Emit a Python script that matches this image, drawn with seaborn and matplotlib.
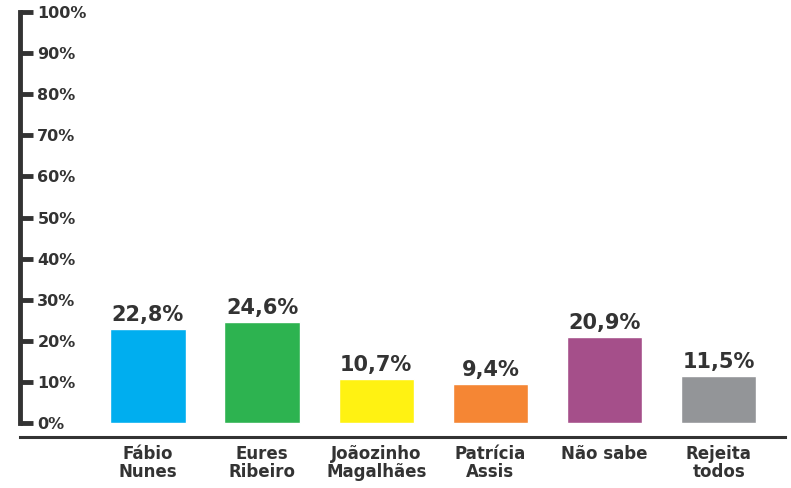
import matplotlib
matplotlib.use("Agg")
import matplotlib.pyplot as plt
import seaborn as sns
import pandas as pd

# data
candidates = ["Fábio\nNunes", "Eures\nRibeiro", "Joãozinho\nMagalhães",
              "Patrícia\nAssis", "Não sabe", "Rejeita\ntodos"]
percent = [22.8, 24.6, 10.7, 9.4, 20.9, 11.5]
bar_colors = ["#00AEEF", "#2DB350", "#FFF212", "#F58634", "#A54F8A", "#939598"]
y_ticks = list(range(0, 101, 10))

ink = "#333333"

sns.set_theme(style="white")
plt.rcParams["font.family"] = ["DejaVu Sans"]

df = pd.DataFrame({"candidate": candidates, "percent": percent})

fig = plt.figure(figsize=(7.91, 4.88), dpi=100)
ax = fig.add_axes([20 / 791, 51 / 488, 765 / 791, 425 / 488])

sns.barplot(data=df, x="candidate", y="percent", hue="candidate",
            palette=bar_colors, width=0.66, legend=False, ax=ax,
            saturation=1)

# value labels above bars
for cont in ax.containers:
    texts = ax.bar_label(cont, labels=[f"{v:.1f}%".replace(".", ",") for v in cont.datavalues],
                         padding=3, fontsize=15, color=ink)
    for t in texts:
        t.set_fontweight("bold")

ax.set_xlim(-1.12, 5.58)
ax.set_ylim(-3.4, 100)
ax.set_yticks(y_ticks)
ax.set_yticklabels([f"{t}%" for t in y_ticks])
ax.set_xlabel("")
ax.set_ylabel("")

for s in ["top", "right"]:
    ax.spines[s].set_visible(False)
ax.spines["left"].set_bounds(0, 100)
ax.spines["left"].set_linewidth(3.5)
ax.spines["left"].set_color(ink)
ax.spines["bottom"].set_linewidth(2.2)
ax.spines["bottom"].set_color(ink)

ax.tick_params(axis="y", direction="in", length=9.5, width=3.5, color=ink,
               pad=-12.5, labelsize=11.5, labelcolor=ink, left=True)
for lbl in ax.get_yticklabels():
    lbl.set_horizontalalignment("left")
    lbl.set_fontweight("bold")

ax.tick_params(axis="x", length=0, pad=6, labelsize=12, labelcolor=ink)
for lbl in ax.get_xticklabels():
    lbl.set_fontweight("bold")
    lbl.set_linespacing(1.0)

fig.savefig("out.png", dpi=100)
